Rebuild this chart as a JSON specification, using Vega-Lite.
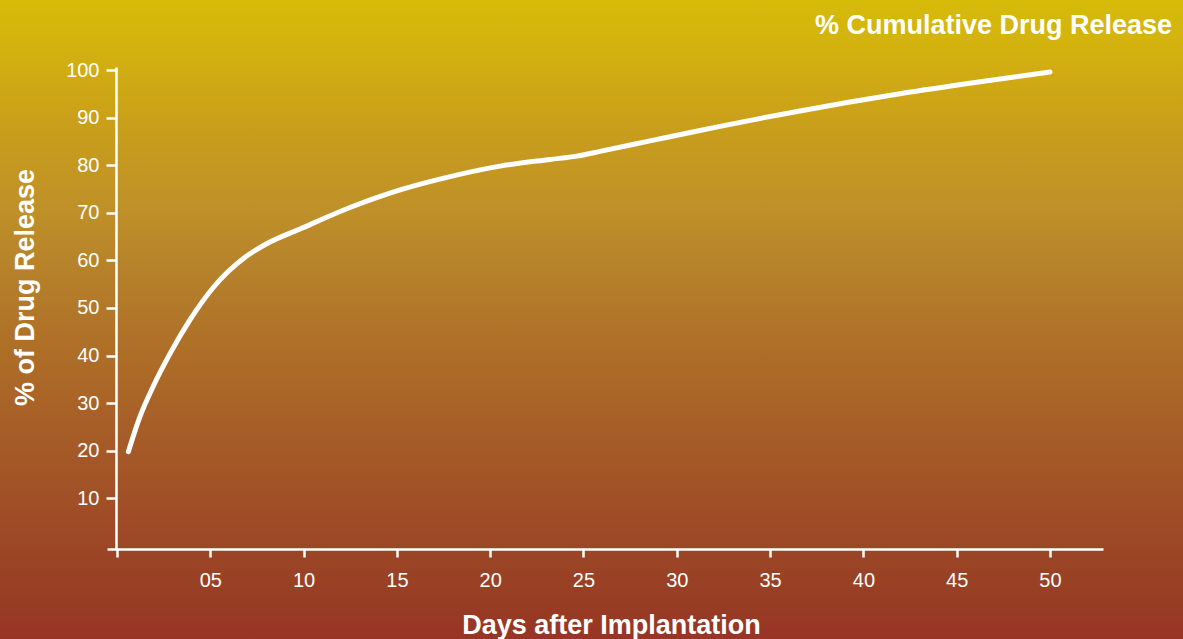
{
  "$schema": "https://vega.github.io/schema/vega-lite/v6.json",
  "width": 1183,
  "height": 639,
  "autosize": {"type": "none"},
  "padding": 0,
  "background": "#B07628",
  "view": {
    "stroke": null,
    "fill": {
      "gradient": "linear",
      "x1": 0, "y1": 0, "x2": 0, "y2": 1,
      "stops": [
        {"offset": 0, "color": "#D6BB0A"},
        {"offset": 0.08, "color": "#D3B10F"},
        {"offset": 0.2, "color": "#C99E1B"},
        {"offset": 0.33, "color": "#BF9029"},
        {"offset": 0.45, "color": "#B47D2A"},
        {"offset": 0.55, "color": "#AE6E27"},
        {"offset": 0.7, "color": "#A55A27"},
        {"offset": 0.85, "color": "#9C4726"},
        {"offset": 0.95, "color": "#973C24"},
        {"offset": 1, "color": "#983425"}
      ]
    }
  },
  "title": {
    "text": "% Cumulative Drug Release",
    "anchor": "end",
    "frame": "group",
    "font": "Liberation Sans",
    "fontSize": 27,
    "fontWeight": "bold",
    "color": "white",
    "baseline": "alphabetic",
    "offset": 0,
    "dx": -11,
    "dy": 61
  },
  "data": {
    "values": [
      {"day": 0.61, "release": 19.8},
      {"day": 1.23, "release": 27.15},
      {"day": 1.95, "release": 33.6},
      {"day": 2.84, "release": 40.4},
      {"day": 3.91, "release": 47.5},
      {"day": 5.16, "release": 54.3},
      {"day": 6.95, "release": 60.9},
      {"day": 8.02, "release": 63.5},
      {"day": 9.81, "release": 66.6},
      {"day": 12.49, "release": 71.1},
      {"day": 15.17, "release": 74.8},
      {"day": 17.85, "release": 77.6},
      {"day": 20.53, "release": 79.8},
      {"day": 23.2, "release": 81.2},
      {"day": 24.64, "release": 81.9},
      {"day": 25.88, "release": 82.9},
      {"day": 28.56, "release": 85.1},
      {"day": 31.24, "release": 87.3},
      {"day": 36.6, "release": 91.4},
      {"day": 41.96, "release": 95.0},
      {"day": 47.32, "release": 98.1},
      {"day": 50.0, "release": 99.6}
    ]
  },
  "mark": {
    "type": "line",
    "color": "white",
    "strokeWidth": 5,
    "strokeCap": "round",
    "strokeJoin": "round",
    "interpolate": "monotone"
  },
  "encoding": {
    "x": {
      "field": "day",
      "type": "quantitative",
      "scale": {"domain": [-6.27, 57.128], "nice": false, "zero": false},
      "axis": {
        "title": "Days after Implantation",
        "values": [0, 5, 10, 15, 20, 25, 30, 35, 40, 45, 50],
        "labelExpr": "datum.value == 0 ? '' : format(datum.value, '02d')",
        "offset": -90,
        "grid": false,
        "domainColor": "white",
        "domainWidth": 2.5,
        "domainDash": [0, 107, 996, 500],
        "tickColor": "white",
        "tickWidth": 2.5,
        "tickSize": 8,
        "labelColor": "white",
        "labelFont": "Liberation Sans",
        "labelFontSize": 20,
        "labelPadding": 13,
        "titleColor": "white",
        "titleFont": "Liberation Sans",
        "titleFontSize": 27,
        "titleFontWeight": "bold",
        "titleBaseline": "alphabetic",
        "titleX": 611,
        "titleY": 84,
        "titleAlign": "center"
      }
    },
    "y": {
      "field": "release",
      "type": "quantitative",
      "scale": {"domain": [-19.565, 114.71], "nice": false, "zero": false},
      "axis": {
        "title": "% of Drug Release",
        "values": [10, 20, 30, 40, 50, 60, 70, 80, 90, 100],
        "offset": -116,
        "grid": false,
        "domainColor": "white",
        "domainWidth": 2.5,
        "domainDash": [0, 90, 482, 700],
        "tickColor": "white",
        "tickWidth": 2.5,
        "tickSize": 10,
        "labelColor": "white",
        "labelFont": "Liberation Sans",
        "labelFontSize": 20,
        "labelPadding": 7,
        "titleColor": "white",
        "titleFont": "Liberation Sans",
        "titleFontSize": 27,
        "titleFontWeight": "bold",
        "titleBaseline": "alphabetic",
        "titleAngle": -90,
        "titleX": -83,
        "titleY": 287,
        "titleAlign": "center"
      }
    }
  }
}
